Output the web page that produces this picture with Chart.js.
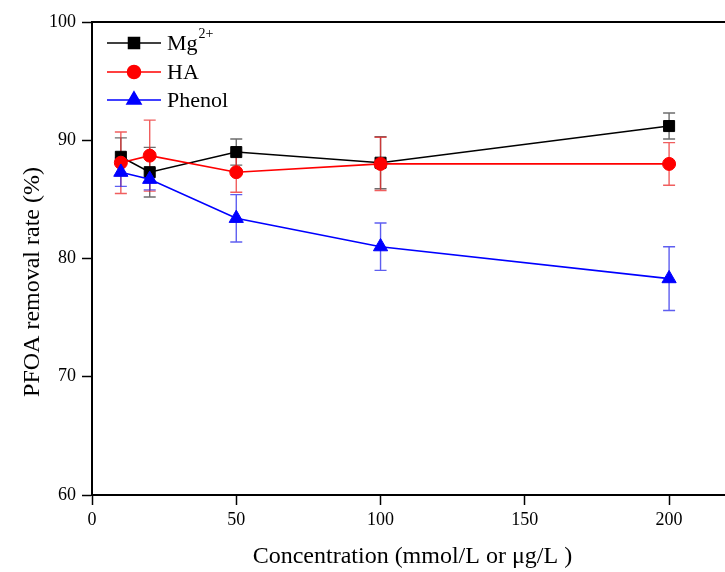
<!DOCTYPE html>
<html>
<head>
<meta charset="utf-8">
<script src="https://cdn.jsdelivr.net/npm/chart.js@4.4.1/dist/chart.umd.min.js"></script>
<style>
  html, body { margin: 0; padding: 0; background: #fff; overflow: hidden; }
  #wrap { width: 736px; height: 572px; }
</style>
</head>
<body>
<div id="wrap"><canvas id="c" width="736" height="572"></canvas></div>
<script>
const concentrations = [10, 20, 50, 100, 200];
const mgValues  = [88.6, 87.3, 89.0, 88.1, 91.2];
const mgErrors  = [1.6, 2.1, 1.1, 2.2, 1.1];
const haValues  = [88.1, 88.7, 87.3, 88.0, 88.0];
const haErrors  = [2.6, 3.0, 1.7, 2.25, 1.8];
const phValues  = [87.3, 86.7, 83.4, 81.0, 78.3];
const phErrors  = [1.2, 0.9, 2.0, 2.0, 2.7];
const xTicks = [0, 50, 100, 150, 200];
const yTicks = [60, 70, 80, 90, 100];
const seriesNames = ['Mg', 'HA', 'Phenol'];

const FONT = "'Liberation Serif', 'Times New Roman', serif";

function pts(vals) { return concentrations.map((x, i) => ({ x: x, y: vals[i] })); }

const errorBarPlugin = {
  id: 'errorBars',
  beforeDatasetsDraw(chart) {
    const ctx = chart.ctx;
    const xs = chart.scales.x, ys = chart.scales.y;
    chart.data.datasets.forEach((ds) => {
      ctx.save();
      ctx.strokeStyle = ds.errColor;
      ctx.lineWidth = 1.4;
      ds.data.forEach((p, i) => {
        const e = ds.errors[i];
        const px = xs.getPixelForValue(p.x);
        const top = ys.getPixelForValue(p.y + e);
        const bot = ys.getPixelForValue(p.y - e);
        ctx.beginPath();
        ctx.moveTo(px, top); ctx.lineTo(px, bot);
        ctx.moveTo(px - 6, top); ctx.lineTo(px + 6, top);
        ctx.moveTo(px - 6, bot); ctx.lineTo(px + 6, bot);
        ctx.stroke();
      });
      ctx.restore();
    });
  }
};

const decorPlugin = {
  id: 'decor',
  afterDraw(chart) {
    const ctx = chart.ctx;
    const a = chart.chartArea;
    ctx.save();
    // top frame line
    ctx.strokeStyle = '#000';
    ctx.lineWidth = 2;
    ctx.beginPath();
    ctx.moveTo(a.left - 1, a.top);
    ctx.lineTo(a.right, a.top);
    ctx.stroke();
    // y axis title
    ctx.save();
    ctx.translate(33, 282);
    ctx.rotate(-Math.PI / 2);
    ctx.font = '24px ' + FONT;
    ctx.fillStyle = '#000';
    ctx.textAlign = 'center';
    ctx.textBaseline = 'middle';
    ctx.fillText('PFOA removal rate (%)', 0, 0);
    ctx.restore();
    // legend
    const rows = [43, 72, 100];
    chart.data.datasets.forEach((ds, i) => {
      const y = rows[i];
      ctx.strokeStyle = ds.borderColor;
      ctx.lineWidth = 1.5;
      ctx.beginPath();
      ctx.moveTo(107, y); ctx.lineTo(161, y);
      ctx.stroke();
      Chart.helpers.drawPoint(ctx, {
        pointStyle: ds.pointStyle, radius: ds.pointRadius, rotation: 0, borderWidth: 1
      }, 134, y);
      ctx.fillStyle = ds.backgroundColor;
      ctx.strokeStyle = ds.borderColor;
      ctx.fill();
      ctx.fillStyle = '#000';
      ctx.font = '22px ' + FONT;
      ctx.textAlign = 'left';
      ctx.textBaseline = 'middle';
      ctx.fillText(seriesNames[i], 167, y + 1);
      if (i === 0) {
        const w = ctx.measureText(seriesNames[0]).width;
        ctx.font = '14px ' + FONT;
        ctx.fillText('2+', 167 + w + 1, y - 9);
      }
    });
    ctx.restore();
  }
};

function makeDs(label, vals, errs, color, errColor, style, r, order) {
  return {
    label: label, data: pts(vals), errors: errs,
    borderColor: color, backgroundColor: color, errColor: errColor,
    borderWidth: 1.6, pointStyle: style, pointRadius: r, pointHoverRadius: r,
    pointBorderWidth: 1, showLine: true, fill: false, tension: 0, order: order
  };
}

new Chart(document.getElementById('c'), {
  type: 'scatter',
  data: {
    datasets: [
      makeDs('Mg2+', mgValues, mgErrors, '#000000', 'rgba(60,60,60,0.75)', 'rect', 7.8, 3),
      makeDs('HA', haValues, haErrors, '#ff0000', 'rgba(235,40,40,0.75)', 'circle', 6.5, 2),
      makeDs('Phenol', phValues, phErrors, '#0000ff', 'rgba(40,40,235,0.75)', 'triangle', 8.2, 1)
    ]
  },
  options: {
    responsive: false,
    animation: false,
    devicePixelRatio: 1,
    layout: { padding: { top: 22, right: 5, left: 0, bottom: 0 } },
    plugins: { legend: { display: false }, tooltip: { enabled: false } },
    scales: {
      x: {
        type: 'linear', min: 0, max: 220,
        afterFit(s) { s.height = 77; },
        afterBuildTicks(s) { s.ticks = xTicks.map(v => ({ value: v })); },
        ticks: { font: { family: FONT, size: 18 }, color: '#000', padding: 4, includeBounds: false, maxRotation: 0 },
        grid: { drawOnChartArea: false, drawTicks: true, tickLength: 10, tickColor: '#000', tickWidth: 1.5 },
        border: { display: true, color: '#000', width: 2 },
        title: {
          display: true, text: ' Concentration (mmol/L or μg/L )', color: '#000',
          font: { family: FONT, size: 24 }, padding: { top: 0, bottom: 1 }
        }
      },
      y: {
        type: 'linear', min: 60, max: 100,
        afterFit(s) { s.width = 92; },
        afterBuildTicks(s) { s.ticks = yTicks.map(v => ({ value: v })); },
        ticks: { font: { family: FONT, size: 18 }, color: '#000', padding: 6 },
        grid: { drawOnChartArea: false, drawTicks: true, tickLength: 10, tickColor: '#000', tickWidth: 1.5 },
        border: { display: true, color: '#000', width: 2 }
      }
    }
  },
  plugins: [errorBarPlugin, decorPlugin]
});
</script>
</body>
</html>
